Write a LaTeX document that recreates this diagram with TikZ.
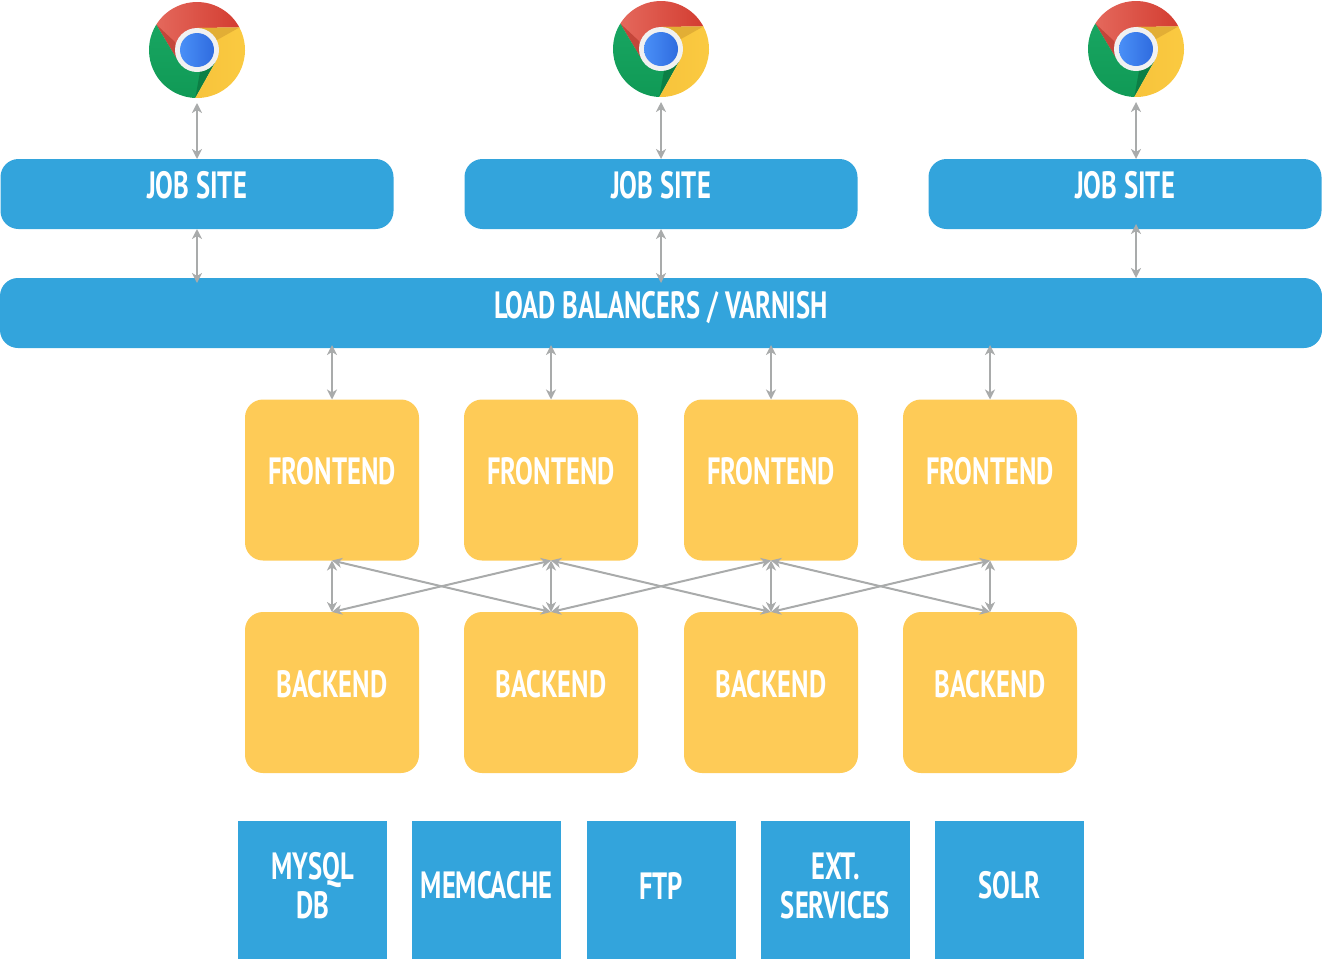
\documentclass[tikz,border=0pt]{standalone}
\usepackage{fontspec}
\setmainfont{PT Sans}[FakeStretch=0.7,BoldFont={* Bold}]
\usetikzlibrary{positioning,arrows.meta}
\definecolor{sitecolor}{HTML}{33A4DC}
\definecolor{appcolor}{HTML}{FECB57}
\definecolor{linkcolor}{HTML}{A9ABAB}
\definecolor{redlight}{HTML}{E4685C}
\definecolor{reddark}{HTML}{D33D31}
\definecolor{redshade}{HTML}{C4463A}
\definecolor{greenlight}{HTML}{18A561}
\definecolor{greendark}{HTML}{109A56}
\definecolor{greenshade}{HTML}{0C7F45}
\definecolor{yellowlight}{HTML}{F7C33B}
\definecolor{yellowdark}{HTML}{FBCB42}
\definecolor{yellowshade}{HTML}{E2AE35}
\definecolor{bluelight}{HTML}{4A8FF7}
\definecolor{bluedark}{HTML}{2F6CDF}
\definecolor{ringcolor}{HTML}{F1F1F1}
\tikzset{
	chromeicon/.pic={
		\shade[left color=redlight,right color=reddark] (148:48pt) arc[start angle=148,end angle=28,radius=48pt] -- (0pt,22pt) -- (0pt,0pt) -- (-19pt,-11pt) -- cycle;
		\fill[redshade] (148:48pt) -- (-19pt,-11pt) -- (-22pt,8pt) -- cycle;
		\shade[top color=greenlight,bottom color=greendark] (148:48pt) arc[start angle=148,end angle=268,radius=48pt] -- (19pt,-11pt) -- (0pt,0pt) -- (-19pt,-11pt) -- cycle;
		\fill[greenshade] (268:48pt) -- (19pt,-11pt) -- (3pt,-22pt) -- cycle;
		\shade[left color=yellowlight,right color=yellowdark] (28:48pt) arc[start angle=28,end angle=-92,radius=48pt] -- (19pt,-11pt) -- (0pt,0pt) -- (0pt,22pt) -- cycle;
		\fill[yellowshade] (28:48pt) -- (0pt,22pt) -- (20pt,10pt) -- cycle;
		\fill[ringcolor] (0pt,0pt) circle (22pt);
		\shade[left color=bluelight,right color=bluedark] (0pt,0pt) circle (17pt);
	},
	sitebox/.style={fill=sitecolor,rounded corners=18pt,minimum width=393pt,minimum height=70pt},
	lbbox/.style={fill=sitecolor,rounded corners=18pt,minimum width=1322pt,minimum height=70pt},
	appbox/.style={fill=appcolor,rounded corners=18pt,minimum width=174pt,minimum height=161pt},
	storebox/.style={fill=sitecolor,minimum width=149pt,minimum height=138pt},
	link/.style={draw=linkcolor,line width=2pt,{Stealth[length=10pt,width=10pt,inset=3pt]}-{Stealth[length=10pt,width=10pt,inset=3pt]}}
}
\newcommand{\uptext}[2][8.5pt]{\raisebox{#1}[\height][\depth]{#2}}
\newcommand{\storetext}[1]{\raisebox{4.5pt}[\height][\depth]{\parbox{149pt}{\centering #1}}}
\begin{document}
\begin{tikzpicture}[x=1pt,y=-1pt,every node/.style={inner sep=0pt,outer sep=0pt,text=white,font=\fontsize{38}{39}\selectfont\bfseries}]
\useasboundingbox (0,0) rectangle (1322,959);
% browsers
\foreach[count=\c] \x/\y in {197/50,661/49,1136/49}{
	\pic at (\x,\y) {chromeicon};
	\node[circle,minimum size=106pt] (chrome\c) at (\x,\y) {};
}
% job sites and balancers
\foreach[count=\c] \x in {197,661,1125}
	\node[sitebox] (site\c) at (\x,194) {\uptext{JOB SITE}};
\node[lbbox] (lb) at (661,313) {\uptext[5.5pt]{LOAD BALANCERS / VARNISH}};
% frontends, backends
\foreach[count=\c] \x in {332,551,771,990}{
	\node[appbox] (front\c) at (\x,480) {\uptext{FRONTEND}};
	\node[appbox] (back\c) at (\x,692.5) {\uptext{BACKEND}};
}
% services
\foreach \n/\x/\t in {mysql/312.5/{MYSQL\\DB},memcache/486.5/MEMCACHE,ftp/661/FTP,ext/835.5/{EXT.\\SERVICES},solr/1009.5/SOLR}
	\node[storebox] (\n) at (\x,890) {\storetext{\t}};
% links
\foreach \c in {1,2,3}
	\draw[link] (chrome\c.south) -- (chrome\c.south |- site\c.north);
\foreach \c in {1,2}
	\draw[link,shorten >=-5pt] (site\c.south) -- (site\c.south |- lb.north);
\draw[link,shorten <=-5pt] (chrome3.south |- site3.south) -- (chrome3.south |- lb.north);
\foreach \c in {1,...,4}{
	\draw[link,shorten <=-3pt] (front\c.north |- lb.south) -- (front\c.north);
	\draw[link] (front\c.south) -- (back\c.north);
}
\foreach \x/\y in {1/2,2/3,3/4}{
	\draw[link] (front\x.south) -- (back\y.north);
	\draw[link] (back\x.north) -- (front\y.south);
}
\end{tikzpicture}
\end{document}
